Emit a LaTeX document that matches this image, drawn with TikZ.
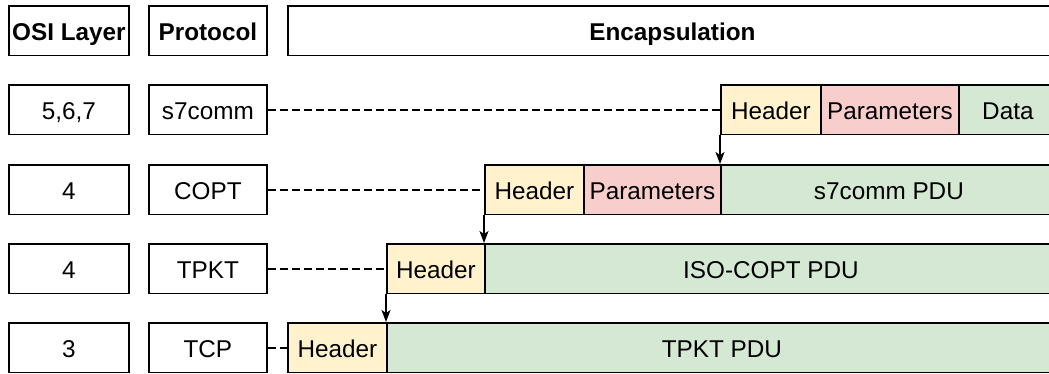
\documentclass[tikz,border=0pt]{standalone}
\usepackage{fontspec}
\setmainfont{Liberation Sans}
\usetikzlibrary{arrows.meta}
\definecolor{hdrfill}{HTML}{FFF2CC}
\definecolor{parfill}{HTML}{F8CECC}
\definecolor{datfill}{HTML}{D5E8D4}
\begin{document}
\begin{tikzpicture}[x=1pt,y=-1pt,
  cell/.style={draw=black, line width=1.8pt, minimum height=49.5pt, inner sep=0pt,
    anchor=north west, text height=19pt, text depth=0pt,
    font=\fontsize{24.3}{28}\selectfont},
  hdrcell/.style={cell, fill=hdrfill},
  parcell/.style={cell, fill=parfill},
  datcell/.style={cell, fill=datfill},
  dashline/.style={line width=1.8pt, dash pattern=on 8pt off 4pt},
  arr/.style={line width=1.8pt, -{Stealth[length=12pt,width=9pt,inset=3pt]}}]
\useasboundingbox (0,0) rectangle (1049,373);
\clip (0,0) rectangle (1049,373);
% header row
\node[cell, minimum width=120pt] (osi0) at (8,5) {\bfseries OSI Layer};
\node[cell, minimum width=118pt] (prot0) at (148,5) {\bfseries Protocol};
\node[cell, minimum width=769pt] (enc0) at (287,5) {\bfseries Encapsulation};
% row 1
\node[cell, minimum width=120pt] (osi1) at (8,84) {5,6,7};
\node[cell, minimum width=118pt] (prot1) at (148,84) {s7comm};
\node[hdrcell, minimum width=100pt] (h1) at (720,84) {Header};
\node[parcell, minimum width=138pt] (p1) at (820,84) {Parameters};
\node[datcell, minimum width=98pt] (d1) at (958,84) {Data};
% row 2
\node[cell, minimum width=120pt] (osi2) at (8,164) {4};
\node[cell, minimum width=118pt] (prot2) at (148,164) {COPT};
\node[hdrcell, minimum width=99pt] (h2) at (484,164) {Header};
\node[parcell, minimum width=137pt] (p2) at (583,164) {Parameters};
\node[datcell, minimum width=336pt] (pdu2) at (720,164) {s7comm PDU};
% row 3
\node[cell, minimum width=120pt] (osi3) at (8,243) {4};
\node[cell, minimum width=118pt] (prot3) at (148,243) {TPKT};
\node[hdrcell, minimum width=98pt] (h3) at (386,243) {Header};
\node[datcell, minimum width=572pt] (pdu3) at (484,243) {ISO-COPT PDU};
% row 4
\node[cell, minimum width=120pt] (osi4) at (8,322) {3};
\node[cell, minimum width=118pt] (prot4) at (148,322) {TCP};
\node[hdrcell, minimum width=99pt] (h4) at (287,322) {Header};
\node[datcell, minimum width=670pt] (pdu4) at (386,322) {TPKT PDU};
% dashed connectors
\draw[dashline] (prot1.east) -- (h1.west);
\draw[dashline] (prot2.east) -- (h2.west);
\draw[dashline] (prot3.east) -- (h3.west);
\draw[dashline] (prot4.east) -- (h4.west);
% arrows
\draw[arr] (h1.south west) -- (pdu2.north west);
\draw[arr] (h2.south west) -- (pdu3.north west);
\draw[arr] (h3.south west) -- (pdu4.north west);
\end{tikzpicture}
\end{document}
